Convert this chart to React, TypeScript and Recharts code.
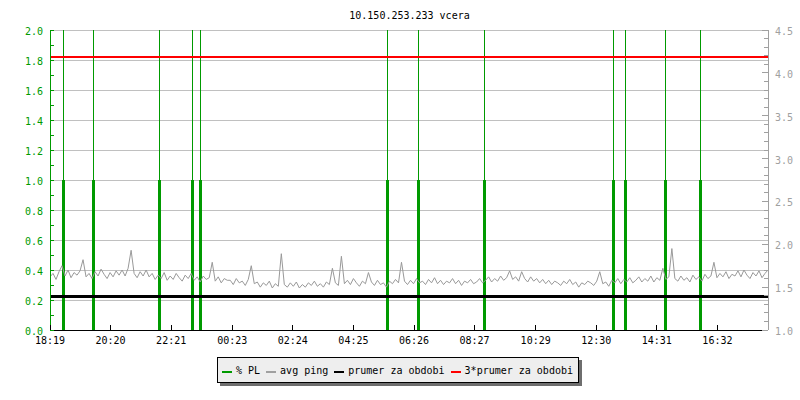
import { ComposedChart, Line, XAxis, YAxis, CartesianGrid, ReferenceLine, Legend } from 'recharts'

const chartTitle = '10.150.253.233 vcera'
const startClock = '18:19'
const spanMinutes = 1434
const sampleStep = 6

const xTickLabels = ['18:19', '20:20', '22:21', '00:23', '02:24', '04:25', '06:26', '08:27', '10:29', '12:30', '14:31', '16:32']
const leftTicks = [0, 0.1, 0.2, 0.3, 0.4, 0.5, 0.6, 0.7, 0.8, 0.9, 1.0, 1.1, 1.2, 1.3, 1.4, 1.5, 1.6, 1.7, 1.8, 1.9, 2.0]
const gridValues = [0.2, 0.4, 0.6, 0.8, 1.0, 1.2, 1.4, 1.6, 1.8, 2.0]
const rightTicks = [
  1.0, 1.1, 1.2, 1.3, 1.4, 1.5, 1.6, 1.7, 1.8, 1.9, 2.0, 2.1, 2.2, 2.3, 2.4, 2.5, 2.6, 2.7,
  2.8, 2.9, 3.0, 3.1, 3.2, 3.3, 3.4, 3.5, 3.6, 3.7, 3.8, 3.9, 4.0, 4.1, 4.2, 4.3, 4.4, 4.5,
]

// avg ping (ms), one sample every 6 minutes from 18:19
const pingEvening = [
  1.62, 1.66, 1.59, 1.68, 1.75, 1.63, 1.70, 1.61, 1.67, 1.64, 1.69, 1.82, 1.62, 1.66, 1.60, 1.68, 1.63, 1.71, 1.65, 1.60,
  1.67, 1.62, 1.69, 1.64, 1.70, 1.63, 1.72, 1.93, 1.66, 1.61, 1.68, 1.63, 1.70, 1.62, 1.66, 1.59, 1.64, 1.60, 1.67, 1.58,
  1.63, 1.59, 1.66, 1.61, 1.57, 1.64, 1.60, 1.66, 1.58, 1.62, 1.56, 1.63, 1.59, 1.61, 1.79, 1.57, 1.62, 1.55, 1.60, 1.58,
]
const pingNight = [
  1.58, 1.53, 1.60, 1.55, 1.57, 1.52, 1.59, 1.75, 1.54, 1.56, 1.50, 1.55, 1.52, 1.57, 1.49, 1.54, 1.51, 1.89, 1.53, 1.50,
  1.55, 1.51, 1.56, 1.49, 1.53, 1.50, 1.55, 1.52, 1.57, 1.51, 1.54, 1.50, 1.56, 1.53, 1.72, 1.55, 1.52, 1.86, 1.54, 1.58,
  1.53, 1.60, 1.55, 1.51, 1.57, 1.54, 1.67, 1.56, 1.52, 1.58, 1.53, 1.55, 1.50, 1.57, 1.54, 1.59, 1.55, 1.79, 1.57, 1.53,
]
const pingMorning = [
  1.58, 1.54, 1.60, 1.55, 1.57, 1.53, 1.59, 1.55, 1.61, 1.54, 1.58, 1.53, 1.57, 1.55, 1.60, 1.54, 1.58, 1.52, 1.57, 1.55,
  1.59, 1.54, 1.56, 1.60, 1.55, 1.58, 1.62, 1.56, 1.60, 1.57, 1.63, 1.58, 1.61, 1.69, 1.59, 1.62, 1.57, 1.68, 1.60, 1.56,
  1.62, 1.57, 1.60, 1.55, 1.59, 1.54, 1.58, 1.53, 1.57, 1.55, 1.52, 1.57, 1.54, 1.59, 1.53, 1.56, 1.50, 1.55, 1.53, 1.57,
]
const pingAfternoon = [
  1.55, 1.52, 1.57, 1.68, 1.54, 1.56, 1.51, 1.58, 1.55, 1.60, 1.54, 1.59, 1.56, 1.61, 1.55, 1.58, 1.62, 1.56, 1.60, 1.57,
  1.63, 1.56, 1.61, 1.58, 1.72, 1.59, 1.62, 1.95, 1.60, 1.57, 1.63, 1.58, 1.61, 1.56, 1.64, 1.59, 1.62, 1.57, 1.65, 1.60,
  1.63, 1.79, 1.61, 1.66, 1.62, 1.68, 1.60, 1.65, 1.63, 1.69, 1.62, 1.70, 1.64, 1.60, 1.67, 1.63, 1.69, 1.61, 1.66, 1.70,
]

// packet loss events (minutes after 18:19) and their % PL value
const plMinutes = [26, 86, 218, 284, 300, 675, 735, 867, 1126, 1150, 1230, 1300]
const plValues = [1, 1, 1, 1, 1, 1, 1, 1, 1, 1, 1, 1]

const meanPing = 1.395

const GREEN = '#009a00'
const GREY = '#a0a0a0'
const FONT = '"DejaVu Sans Mono", monospace'
const CRISP = 'crispEdges'

const legendItems = [
  { name: '% PL', color: GREEN },
  { name: 'avg ping', color: GREY },
  { name: 'prumer za obdobi', color: '#000000' },
  { name: '3*prumer za obdobi', color: '#ff0000' },
]

const toMin = (s: string) => {
  const [h, m] = s.split(':').map(Number)
  return h * 60 + m
}
const xTicks = xTickLabels.map(l => (toMin(l) - toMin(startClock) + 1440) % 1440)
const clockOf = (t: number) => {
  const m = (toMin(startClock) + Math.round(t)) % 1440
  return `${String(Math.floor(m / 60)).padStart(2, '0')}:${String(m % 60).padStart(2, '0')}`
}

const pingValues = [...pingEvening, ...pingNight, ...pingMorning, ...pingAfternoon]
const data = pingValues.map((v, i) => ({
  t: i * sampleStep,
  ping: v,
  mean: meanPing,
  mean3: meanPing * 3,
}))

function LeftTick({ x, y, payload }: any) {
  const ax = x + 7
  const v = payload.value as number
  const major = Math.round(v * 10) % 2 === 0
  return (
    <g>
      <line x1={ax} x2={ax + 4} y1={y} y2={y} stroke={GREEN} shapeRendering={CRISP} />
      {major && (
        <text x={x} y={y} dy={5} textAnchor="end" fill={GREEN} fontSize={10} fontFamily={FONT}>
          {v.toFixed(1)}
        </text>
      )}
    </g>
  )
}

function RightTick({ x, y, payload }: any) {
  const ax = x - 7
  const v = payload.value as number
  const major = Math.round(v * 10) % 5 === 0
  return (
    <g>
      <line x1={ax - (major ? 6 : 4)} x2={ax} y1={y} y2={y} stroke={GREY} shapeRendering={CRISP} />
      {major && (
        <text x={x} y={y} dy={5} textAnchor="start" fill={GREY} fontSize={10} fontFamily={FONT}>
          {v.toFixed(1)}
        </text>
      )}
    </g>
  )
}

function BottomTick({ x, y, payload }: any) {
  return (
    <g>
      <line x1={x} x2={x} y1={y - 5} y2={y} stroke="#000" shapeRendering={CRISP} />
      <text x={x} y={y + 14} textAnchor="middle" fill="#000" fontSize={10} fontFamily={FONT}>
        {clockOf(payload.value)}
      </text>
    </g>
  )
}

function LegendBox() {
  return (
    <div
      style={{
        display: 'flex',
        alignItems: 'center',
        height: 24,
        padding: '0 5px 0 4px',
        border: '1px solid #000',
        background: '#eeeeee',
        boxShadow: '3px 3px 0 #6e6e6e',
        fontFamily: FONT,
        fontSize: 10,
        color: '#000',
        whiteSpace: 'nowrap',
      }}
    >
      {legendItems.map((it, i) => (
        <div key={it.name} style={{ display: 'flex', alignItems: 'center', marginLeft: i === 0 ? 0 : 6 }}>
          <span style={{ width: 10, height: 2, background: it.color, marginRight: 4, transform: 'translateY(2px)' }} />
          <span>{it.name}</span>
        </div>
      ))}
    </div>
  )
}

export default function App() {
  return (
    <div style={{ position: 'relative', width: 800, height: 400, background: '#fff' }}>
      <style>{'body{margin:0}'}</style>
      <div
        style={{
          position: 'absolute',
          left: 50,
          top: 11,
          width: 719,
          textAlign: 'center',
          fontFamily: FONT,
          fontSize: 10,
          lineHeight: '10px',
          zIndex: 2,
        }}
      >
        {chartTitle}
      </div>
      <ComposedChart width={800} height={400} data={data} margin={{ top: 30, right: 0, bottom: 50, left: 0 }}>
        <CartesianGrid yAxisId="left" vertical={false} horizontalValues={gridValues} stroke="#c0c0c0" shapeRendering={CRISP} />
        <XAxis
          dataKey="t"
          type="number"
          domain={[0, spanMinutes]}
          allowDataOverflow
          ticks={xTicks}
          interval={0}
          height={20}
          tickSize={0}
          tickMargin={0}
          tick={<BottomTick />}
          axisLine={{ stroke: '#000', shapeRendering: CRISP }}
          tickLine={false}
        />
        <YAxis
          yAxisId="left"
          orientation="left"
          type="number"
          domain={[0, 2]}
          allowDataOverflow
          ticks={leftTicks}
          interval={0}
          width={50}
          tickSize={0}
          tickMargin={7}
          tick={<LeftTick />}
          axisLine={{ stroke: GREEN, shapeRendering: CRISP }}
          tickLine={false}
        />
        <YAxis
          yAxisId="right"
          orientation="right"
          type="number"
          domain={[1, 4.5]}
          allowDataOverflow
          ticks={rightTicks}
          interval={0}
          width={32}
          tickSize={0}
          tickMargin={7}
          tick={<RightTick />}
          axisLine={{ stroke: GREY, shapeRendering: CRISP }}
          tickLine={false}
        />
        {plMinutes.map(t => (
          <ReferenceLine key={`top-${t}`} yAxisId="left" x={t} stroke={GREEN} strokeWidth={1} shapeRendering={CRISP} />
        ))}
        {plMinutes.map((t, i) => (
          <ReferenceLine
            key={`pl-${t}`}
            yAxisId="left"
            segment={[{ x: t, y: 0 }, { x: t, y: plValues[i] }]}
            stroke={GREEN}
            strokeWidth={3}
            shapeRendering={CRISP}
          />
        ))}
        <Line yAxisId="right" type="linear" dataKey="ping" name="avg ping" stroke="#999999" strokeWidth={1} dot={false} isAnimationActive={false} />
        <Line yAxisId="right" type="linear" dataKey="mean" name="prumer za obdobi" stroke="#000" strokeWidth={3} dot={false} isAnimationActive={false} shapeRendering={CRISP} />
        <Line yAxisId="right" type="linear" dataKey="mean3" name="3*prumer za obdobi" stroke="#ff0000" strokeWidth={2} dot={false} isAnimationActive={false} shapeRendering={CRISP} />
        <Legend
          layout="horizontal"
          verticalAlign="middle"
          align="center"
          wrapperStyle={{ left: 217, top: 357, width: 'auto', height: 'auto' }}
          content={() => <LegendBox />}
        />
      </ComposedChart>
    </div>
  )
}
